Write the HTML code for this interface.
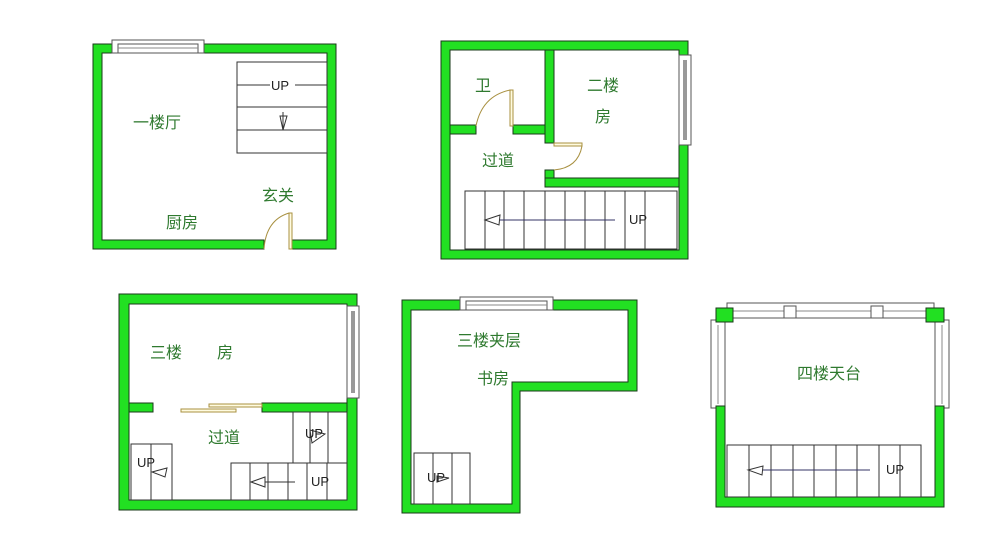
<!DOCTYPE html>
<html><head><meta charset="utf-8"><style>
html,body{margin:0;padding:0;background:#fff;}
svg{display:block;}
text{font-family:"Liberation Sans","Noto Sans CJK SC",sans-serif;}
.cn{fill:#2f7a2f;font-size:16px;}
.up{fill:#222;font-size:13px;}
.w{fill:#22e022;stroke:#1a3a1a;stroke-width:1;}
.st{fill:none;stroke:#333;stroke-width:1;}
.win{fill:#fff;stroke:#555;stroke-width:1;}
.dr{fill:none;stroke:#a89040;stroke-width:1;}
</style></head><body>
<svg width="1000" height="552" viewBox="0 0 1000 552" xmlns="http://www.w3.org/2000/svg">
<rect width="1000" height="552" fill="#fff"/>

<!-- Plan 1 -->
<path class="w" fill-rule="evenodd" d="M93,44H336V249H292V240H327V53H102V240H264V249H93Z"/>
<rect class="win" x="112" y="40" width="92" height="13"/>
<rect class="win" x="118" y="44" width="80" height="9"/>
<line x1="118" y1="48" x2="198" y2="48" stroke="#888"/>
<g class="st">
<rect x="237" y="62" width="90" height="91"/>
<line x1="237" y1="85" x2="270" y2="85"/><line x1="295" y1="85" x2="327" y2="85"/>
<line x1="237" y1="107" x2="327" y2="107"/><line x1="237" y1="130" x2="327" y2="130"/>
<path d="M280,116 L287,116 L283,130 Z M283,112 V130"/>
</g>
<text class="up" x="271" y="90">UP</text>
<rect x="289" y="213" width="3" height="36" fill="#fffbe0" stroke="#a89040"/>
<path class="dr" d="M264,249 Q266,220 289,213"/>
<text class="cn" x="133" y="128">一楼厅</text>
<text class="cn" x="262" y="201">玄关</text>
<text class="cn" x="166" y="228">厨房</text>

<!-- Plan 2 -->
<path class="w" fill-rule="evenodd" d="M441,41H688V259H441Z M450,50V250H679V50Z"/>
<rect class="w" x="545" y="50" width="9" height="93"/>
<rect class="w" x="450" y="125" width="26" height="9"/>
<rect class="w" x="513" y="125" width="32" height="9"/>
<rect class="w" x="545" y="170" width="9" height="17"/>
<rect class="w" x="545" y="178" width="134" height="9"/>
<rect class="win" x="679" y="55" width="12" height="90"/>
<rect x="683" y="60" width="4" height="80" fill="#999"/>
<rect x="510" y="90" width="3" height="36" fill="#fffbe0" stroke="#a89040"/>
<path class="dr" d="M510,90 Q482,96 476,126"/>
<rect x="554" y="143" width="28" height="3" fill="#fffbe0" stroke="#a89040"/>
<path class="dr" d="M582,146 Q578,168 554,170"/>
<g class="st">
<rect x="465" y="191" width="212" height="58"/>
<line x1="485" y1="191" x2="485" y2="249"/><line x1="504" y1="191" x2="504" y2="249"/>
<line x1="524" y1="191" x2="524" y2="249"/><line x1="545" y1="191" x2="545" y2="249"/>
<line x1="565" y1="191" x2="565" y2="249"/><line x1="585" y1="191" x2="585" y2="249"/>
<line x1="605" y1="191" x2="605" y2="249"/><line x1="625" y1="191" x2="625" y2="249"/>
<line x1="645" y1="191" x2="645" y2="249"/>
<line x1="500" y1="220" x2="615" y2="220" stroke="#336"/>
<path d="M485,220 L500,215 L499,225 Z"/>
</g>
<text class="up" x="629" y="224">UP</text>
<text class="cn" x="475" y="91">卫</text>
<text class="cn" x="587" y="91">二楼</text>
<text class="cn" x="595" y="122">房</text>
<text class="cn" x="482" y="166">过道</text>

<!-- Plan 3 -->
<path class="w" fill-rule="evenodd" d="M119,294H357V510H119Z M129,304V500H347V304Z"/>
<rect class="w" x="129" y="403" width="24" height="9"/>
<rect class="w" x="262" y="403" width="85" height="9"/>
<rect class="win" x="347" y="306" width="12" height="92"/>
<rect x="351" y="311" width="4" height="82" fill="#999"/>
<rect x="209" y="404" width="53" height="3" fill="#fffbe0" stroke="#a89040"/>
<rect x="181" y="409" width="55" height="3" fill="#fffbe0" stroke="#a89040"/>
<g class="st">
<rect x="293" y="412" width="54" height="51"/>
<line x1="310" y1="412" x2="310" y2="463"/><line x1="328" y1="412" x2="328" y2="463"/>
<path d="M310,430 L325,434 L312,443 Z"/>
<rect x="231" y="463" width="116" height="37"/>
<line x1="250" y1="463" x2="250" y2="500"/><line x1="268" y1="463" x2="268" y2="500"/>
<line x1="288" y1="463" x2="288" y2="500"/><line x1="307" y1="463" x2="307" y2="500"/>
<line x1="327" y1="463" x2="327" y2="500"/>
<line x1="265" y1="482" x2="295" y2="482"/>
<path d="M251,482 L265,477 L265,487 Z"/>
<rect x="131" y="444" width="41" height="56"/>
<line x1="151" y1="444" x2="151" y2="500"/>
<path d="M152,472 L167,468 L165,477 Z"/>
</g>
<text class="up" x="305" y="438" font-size="11">UP</text>
<text class="up" x="311" y="486">UP</text>
<text class="up" x="137" y="467">UP</text>
<text class="cn" x="150" y="358">三楼</text>
<text class="cn" x="217" y="358">房</text>
<text class="cn" x="208" y="443">过道</text>

<!-- Plan 4 -->
<path class="w" fill-rule="evenodd" d="M402,300H637V391H520V513H402Z M411,310V504H512V382H628V310Z"/>
<rect class="win" x="460" y="297" width="93" height="13"/>
<rect class="win" x="466" y="301" width="81" height="9"/>
<line x1="466" y1="305" x2="547" y2="305" stroke="#888"/>
<g class="st">
<rect x="414" y="453" width="56" height="51"/>
<line x1="433" y1="453" x2="433" y2="504"/><line x1="452" y1="453" x2="452" y2="504"/>
<path d="M437,476 L449,478 L437,482 Z"/>
</g>
<text class="up" x="427" y="482" font-size="11">UP</text>
<text class="cn" x="457" y="346">三楼夹层</text>
<text class="cn" x="477" y="384">书房</text>

<!-- Plan 5 -->
<rect class="win" x="727" y="303" width="207" height="15"/>
<line x1="733" y1="311" x2="926" y2="311" stroke="#888"/>
<rect class="win" x="784" y="306" width="12" height="12"/>
<rect class="win" x="871" y="306" width="12" height="12"/>
<rect class="win" x="711" y="320" width="14" height="88"/>
<line x1="718" y1="325" x2="718" y2="404" stroke="#888"/>
<rect class="win" x="935" y="320" width="14" height="88"/>
<line x1="942" y1="325" x2="942" y2="404" stroke="#888"/>
<path class="w" d="M716,406H725V497H935V406H944V507H716Z"/>
<rect class="w" x="716" y="308" width="17" height="14"/>
<rect class="w" x="926" y="308" width="18" height="14"/>
<g class="st">
<rect x="727" y="445" width="194" height="52"/>
<line x1="749" y1="445" x2="749" y2="497"/><line x1="771" y1="445" x2="771" y2="497"/>
<line x1="793" y1="445" x2="793" y2="497"/><line x1="814" y1="445" x2="814" y2="497"/>
<line x1="836" y1="445" x2="836" y2="497"/><line x1="857" y1="445" x2="857" y2="497"/>
<line x1="879" y1="445" x2="879" y2="497"/><line x1="900" y1="445" x2="900" y2="497"/>
<line x1="763" y1="470" x2="870" y2="470" stroke="#336"/>
<path d="M748,470 L763,466 L762,475 Z"/>
</g>
<text class="up" x="886" y="474">UP</text>
<text class="cn" x="797" y="379">四楼天台</text>
</svg>
</body></html>
